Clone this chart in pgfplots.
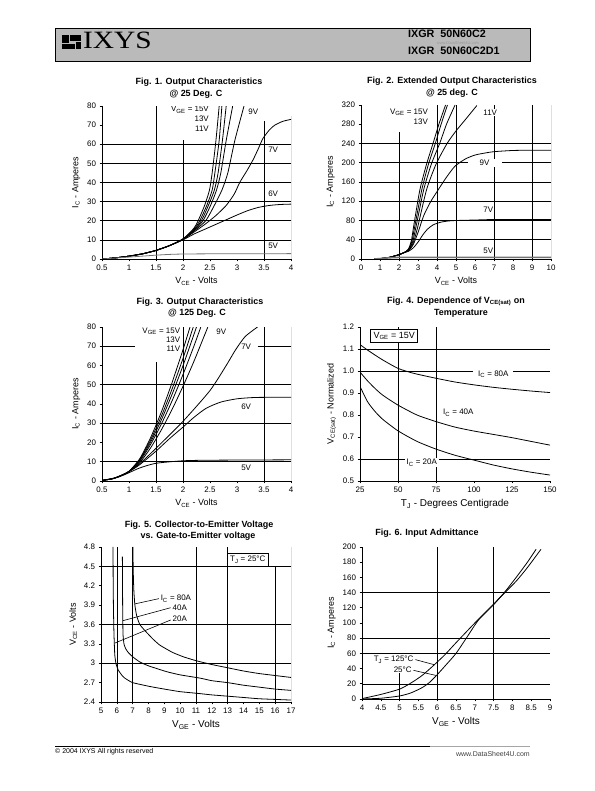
\documentclass[border=0pt]{standalone}
\usepackage{fontspec}
\setmainfont{Liberation Sans}
\newfontfamily\seriffont{Liberation Serif}
\usepackage{graphicx}
\usepackage{pgfplots}
\pgfplotsset{compat=1.18}

\pgfplotsset{
  ds/.style={
    scale only axis, anchor=south west,
    axis x line*=bottom, axis y line*=left,
    axis line style={black, line width=0.9pt},
    tick align=outside, major tick length=2.5pt,
    every tick/.style={black, line width=0.6pt},
    enlargelimits=false,
    ticklabel style={font=\fontsize{8}{9}\selectfont},
    /pgf/number format/assume math mode=true,
    label style={font=\fontsize{9}{10}\selectfont},
    cycle list={{black, solid}},
    every axis plot/.append style={line width=0.8pt, no markers, smooth, tension=0.4},
    clip=true,
  },
}
\tikzset{gl/.style={black, line width=0.55pt},
  lbl/.style={fill=white, inner sep=1pt, font=\fontsize{8}{10}\selectfont}}

\begin{document}
\begin{tikzpicture}
\path[use as bounding box] (0,0) rectangle (595bp,791bp);
\begin{scope}[x=1bp,y=-1bp,yshift=791bp]
 % header
 \draw[fill=black!27, line width=0.8pt] (55,28) rectangle (530,61);
 \fill[black] (62,35) rectangle (69,43);
 \fill[black] (70,35) rectangle (81,41);
 \fill[black] (62,44) rectangle (75,49);
 \fill[black] (76,42) rectangle (81,49);
 \node[anchor=base west, inner sep=0, font=\seriffont\fontsize{25}{25}\selectfont] at (83,49) {\scalebox{1.18}[1]{IXYS}};
 \node[anchor=base west, inner sep=0, font=\bfseries\fontsize{10.8}{12}\selectfont] at (408,37.7) {IXGR\ \ 50N60C2};
 \node[anchor=base west, inner sep=0, font=\bfseries\fontsize{10.8}{12}\selectfont] at (408,54.3) {IXGR\ \ 50N60C2D1};
 \node[anchor=base, inner sep=0, text=black!40, font=\fontsize{4}{5}\selectfont] at (458,45) {www.DataSheet4U.com};
 % titles
 \begin{scope}[every node/.style={font=\bfseries\fontsize{9}{10}\selectfont, inner sep=0}]
 \node at (199,82.7) {Fig. 1. Output Characteristics};
 \node at (196,94.3) {@ 25 Deg. C};
 \node at (452,81.7) {Fig. 2. Extended Output Characteristics};
 \node at (452,93.6) {@ 25 deg. C};
 \node at (200,302.7) {Fig. 3. Output Characteristics};
 \node at (197,313.3) {@ 125 Deg. C};
 \node at (456,301.7) {Fig. 4. Dependence of V\textsubscript{CE(sat)} on};
 \node at (461,313.3) {Temperature};
 \node at (199,525) {Fig. 5. Collector-to-Emitter Voltage};
 \node at (198,536.7) {vs. Gate-to-Emitter voltage};
 \node at (427,533.3) {Fig. 6. Input Admittance};
 \end{scope}
 % footer
 \draw[line width=0.6pt] (55,746) -- (430,746);
 \draw[line width=0.6pt, black!35] (430,746) -- (530,746);
 \node[anchor=base west, inner sep=0, font=\fontsize{7}{8}\selectfont] at (55,754) {© 2004 IXYS All rights reserved};
 \node[anchor=base east, inner sep=0, text=black!75, font=\fontsize{7}{8}\selectfont] at (530,757) {www.DataSheet4U.com};
\end{scope}

%================ Fig 1
\begin{axis}[ds, at={(102bp,532bp)}, width=189bp, height=153bp,
  xmin=0.5, xmax=4, ymin=0, ymax=80,
  xtick={0.5,1,1.5,2,2.5,3,3.5,4}, ytick={0,10,20,30,40,50,60,70,80},
  xlabel={V\textsubscript{CE} - Volts}, ylabel={I\textsubscript{C} - Amperes}]
\draw[gl] (axis cs:0.5,10) -- (axis cs:4,10);
\draw[gl] (axis cs:0.5,20) -- (axis cs:4,20);
\draw[gl] (axis cs:0.5,30) -- (axis cs:4,30);
\draw[gl] (axis cs:0.5,40) -- (axis cs:4,40);
\draw[gl] (axis cs:0.5,50) -- (axis cs:4,50);
\draw[gl] (axis cs:0.5,60) -- (axis cs:4,60);
\draw[gl] (axis cs:1.5,0) -- (axis cs:1.5,80);
\draw[gl] (axis cs:2,0) -- (axis cs:2,62);
\draw[gl] (axis cs:3.5,0) -- (axis cs:3.5,72);
\draw[gl] (axis cs:4,0) -- (axis cs:4,75);
\node[lbl, anchor=north east, align=right] at (axis cs:2.5,80.5) {V\textsubscript{GE} = 15V\\13V\\11V};
\node[lbl] at (axis cs:3.3,77) {9V};
\node[lbl] at (axis cs:3.67,57) {7V};
\node[lbl] at (axis cs:3.67,34) {6V};
\node[lbl] at (axis cs:3.67,7) {5V};
% 15V
\addplot coordinates {(0.5,0) (0.75,0.6) (1,1.5) (1.25,2.7) (1.5,4.5) (1.75,7) (2,10.5) (2.2,16) (2.28,20) (2.4,28) (2.49,36) (2.54,45) (2.61,62) (2.67,80)};
% 13V
\addplot coordinates {(0.5,0) (0.75,0.6) (1,1.5) (1.25,2.7) (1.5,4.5) (1.75,7) (2,10.5) (2.2,15.5) (2.31,20) (2.44,28) (2.54,36) (2.59,45) (2.67,62) (2.72,80)};
% 11V
\addplot coordinates {(0.5,0) (0.75,0.6) (1,1.5) (1.25,2.7) (1.5,4.5) (1.75,7) (2,10.4) (2.2,15) (2.34,20) (2.47,28) (2.58,36) (2.65,45) (2.73,62) (2.80,80)};
% 10V
\addplot coordinates {(0.5,0) (0.75,0.6) (1,1.5) (1.25,2.7) (1.5,4.5) (1.75,7) (2,10.3) (2.2,14.8) (2.37,20) (2.51,28) (2.62,36) (2.70,45) (2.80,62) (2.92,80)};
% 9V
\addplot coordinates {(0.5,0) (0.75,0.6) (1,1.5) (1.25,2.7) (1.5,4.5) (1.75,7) (2,10.2) (2.2,14.5) (2.42,20) (2.58,28) (2.72,36) (2.83,45) (2.96,62) (3.13,80)};
% 7V
\addplot coordinates {(0.5,0) (0.75,0.6) (1,1.5) (1.25,2.7) (1.5,4.5) (1.75,7) (2,10.2) (2.2,14) (2.4,18) (2.6,22.5) (2.8,28) (2.95,34) (3.05,40) (3.18,46) (3.3,52) (3.4,58) (3.48,63) (3.6,67.5) (3.7,70) (3.85,72) (4,73)};
% 6V
\addplot coordinates {(0.5,0) (0.75,0.6) (1,1.5) (1.25,2.7) (1.5,4.4) (1.75,7) (2,10) (2.2,13) (2.4,15.5) (2.6,18) (2.8,20.5) (3.0,23) (3.2,25.3) (3.4,27) (3.6,28) (3.8,28.5) (4,28.7)};
% 5V
\addplot[black!55] coordinates {(0.5,0) (0.75,0.5) (1,1) (1.25,1.5) (1.5,2) (1.75,2.4) (2,2.6) (2.5,2.7) (4,2.8)};
\end{axis}

%================ Fig 2
\begin{axis}[ds, at={(361bp,532bp)}, width=190bp, height=154bp,
  xmin=0, xmax=10, ymin=0, ymax=320,
  xtick={0,1,2,3,4,5,6,7,8,9,10}, ytick={0,40,80,120,160,200,240,280,320},
  xlabel={V\textsubscript{CE} - Volts}, ylabel={I\textsubscript{C} - Amperes}]
\draw[gl] (axis cs:0,40) -- (axis cs:10,40);
\draw[gl] (axis cs:0,80) -- (axis cs:10,80);
\draw[gl] (axis cs:0,120) -- (axis cs:10,120);
\draw[gl] (axis cs:0,160) -- (axis cs:10,160);
\draw[gl] (axis cs:0,200) -- (axis cs:10,200);
\draw[gl] (axis cs:0,240) -- (axis cs:10,240);
\draw[gl] (axis cs:2,0) -- (axis cs:2,264);
\draw[gl] (axis cs:4,0) -- (axis cs:4,320);
\draw[gl] (axis cs:5,0) -- (axis cs:5,320);
\draw[gl] (axis cs:7,0) -- (axis cs:7,320);
\draw[gl] (axis cs:9,0) -- (axis cs:9,320);
\draw[gl] (axis cs:10,0) -- (axis cs:10,320);
\node[lbl, anchor=north east, align=right] at (axis cs:3.58,315) {V\textsubscript{GE} = 15V\\13V};
\node[lbl] at (axis cs:6.8,304) {11V};
\node[lbl, minimum width=34bp] at (axis cs:6.5,200) {9V};
\node[lbl] at (axis cs:6.7,102) {7V};
\node[lbl] at (axis cs:6.7,17) {5V};
\addplot coordinates {(0.7,0) (1,0.8) (1.5,3.5) (2,9) (2.3,14) (2.5,21) (2.65,38) (2.8,75) (3.1,144) (3.45,197) (3.79,240) (4.1,280) (4.45,320)};
\addplot coordinates {(0.7,0) (1,0.8) (1.5,3.5) (2,9) (2.3,14) (2.5,20) (2.68,37) (2.85,72) (3.2,144) (3.55,197) (3.91,240) (4.2,278) (4.55,320)};
\addplot coordinates {(0.7,0) (1,0.8) (1.5,3.5) (2,9) (2.3,14) (2.5,19) (2.72,36) (2.9,68) (3.3,144) (3.7,197) (4.14,240) (4.5,280) (4.95,320)};
\addplot coordinates {(0.7,0) (1,0.8) (1.5,3.5) (2,9) (2.3,14) (2.5,18) (2.75,34) (2.97,64) (3.45,144) (3.95,197) (4.53,240) (5,266) (5.5,290) (6.1,319)};
\addplot coordinates {(0.7,0) (1,0.8) (1.5,3.5) (2,9) (2.3,14) (2.5,17) (2.75,30) (3.0,55) (3.3,90) (3.65,118) (4,140) (4.5,170) (4.95,193) (5.5,208) (6,216) (6.5,220) (7,223) (8,225.5) (9,226) (10,226)};
\addplot coordinates {(0.7,0) (1,0.8) (1.5,3.5) (2,9) (2.3,13.5) (2.5,16) (2.75,23) (3.0,35) (3.25,50) (3.5,62) (3.8,71) (4.2,76.5) (4.6,79) (5,80) (6,81) (7,82) (10,82)};
\addplot[black!55, line width=1.6pt] coordinates {(0.7,0) (1,0.8) (1.5,2.5) (2,3.3) (2.5,3.5) (10,3.5)};
\end{axis}

%================ Fig 3
\begin{axis}[ds, at={(102bp,310bp)}, width=189bp, height=154bp,
  xmin=0.5, xmax=4, ymin=0, ymax=80,
  xtick={0.5,1,1.5,2,2.5,3,3.5,4}, ytick={0,10,20,30,40,50,60,70,80},
  xlabel={V\textsubscript{CE} - Volts}, ylabel={I\textsubscript{C} - Amperes}]
\draw[gl] (axis cs:0.5,10) -- (axis cs:4,10);
\draw[gl] (axis cs:0.5,30) -- (axis cs:4,30);
\draw[gl] (axis cs:0.5,50) -- (axis cs:4,50);
\draw[gl] (axis cs:0.5,70) -- (axis cs:1.11,70);
\draw[gl] (axis cs:3.38,70) -- (axis cs:4,70);
\draw[gl] (axis cs:1.5,0) -- (axis cs:1.5,61.8);
\draw[gl] (axis cs:2,0) -- (axis cs:2,80);
\draw[gl] (axis cs:3.5,0) -- (axis cs:3.5,80);
\draw[gl] (axis cs:4,0) -- (axis cs:4,80);
\node[lbl, anchor=north east, align=right, font=\fontsize{8}{9.4}\selectfont] at (axis cs:1.97,80.3) {V\textsubscript{GE} = 15V\\13V\\11V};
\node[lbl] at (axis cs:2.71,77.4) {9V};
\node[lbl] at (axis cs:3.17,69.6) {7V};
\node[lbl] at (axis cs:3.17,38.5) {6V};
\node[lbl] at (axis cs:3.17,6.6) {5V};
\addplot coordinates {(0.5,0.3) (0.7,1.2) (0.85,2.8) (1,5) (1.2,11.6) (1.4,22.5) (1.6,35.9) (1.8,51.3) (2,68.2) (2.13,80)};
\addplot coordinates {(0.5,0.3) (0.7,1.2) (0.85,2.8) (1,5) (1.2,11.2) (1.4,21.3) (1.6,33.7) (1.8,48) (2,63.7) (2.19,80)};
\addplot coordinates {(0.5,0.3) (0.7,1.2) (0.85,2.8) (1,5) (1.2,10.8) (1.4,20.2) (1.6,31.8) (1.8,45.2) (2,59.9) (2.25,80)};
\addplot coordinates {(0.5,0.3) (0.7,1.2) (0.85,2.8) (1,5) (1.2,10.3) (1.4,19) (1.6,29.6) (1.8,41.8) (2,55.3) (2.2,69.9) (2.33,80)};
\addplot coordinates {(0.5,0.3) (0.7,1.2) (0.85,2.8) (1,5) (1.2,9.6) (1.4,17.2) (1.6,26.6) (1.8,37.3) (2,49.2) (2.2,62) (2.46,80)};
\addplot coordinates {(0.5,0.3) (0.7,1.2) (0.85,2.8) (1,4.9) (1.2,9) (1.5,17) (2,31) (2.5,47) (2.8,60) (2.97,68) (3.15,75) (3.38,80)};
\addplot coordinates {(0.5,0.3) (0.7,1.2) (0.85,2.8) (1,4.8) (1.2,8.5) (1.5,15.5) (1.75,22) (2,28) (2.2,33) (2.43,37.8) (2.7,41) (3,42.7) (3.35,43.4) (4,43.5)};
\addplot coordinates {(0.5,0.3) (0.8,2) (1,4.3) (1.2,6.8) (1.5,9.2) (2,10.5) (2.5,10.8) (4,11)};
\end{axis}

%================ Fig 4
\begin{axis}[ds, at={(360bp,310bp)}, width=190bp, height=154bp,
  xmin=25, xmax=150, ymin=0.5, ymax=1.2,
  xtick={25,50,75,100,125,150}, ytick={0.5,0.6,0.7,0.8,0.9,1.0,1.1,1.2},
  yticklabel style={/pgf/number format/.cd, fixed, fixed zerofill, precision=1},
  xlabel={T\textsubscript{J} - Degrees Centigrade}, ylabel={V\textsubscript{CE(sat)} - Normalized},
  xlabel style={font=\fontsize{10}{11}\selectfont}]
\draw[gl] (axis cs:25,1.1) -- (axis cs:150,1.1);
\draw[gl] (axis cs:25,1.0) -- (axis cs:150,1.0);
\draw[gl] (axis cs:25,0.6) -- (axis cs:150,0.6);
\draw[gl] (axis cs:50,0.5) -- (axis cs:50,1.2);
\draw[gl] (axis cs:75,0.5) -- (axis cs:75,1.2);
\node[fill=white, draw=black, line width=0.8pt, inner sep=3pt, font=\fontsize{9}{10}\selectfont] at (axis cs:47.5,1.158) {V\textsubscript{GE} = 15V};
\node[lbl, minimum width=40bp] at (axis cs:112.7,0.986) {I\textsubscript{C} = 80A};
\node[lbl] at (axis cs:89.7,0.811) {I\textsubscript{C} = 40A};
\node[lbl, minimum width=34bp] at (axis cs:65.6,0.583) {I\textsubscript{C} = 20A};
\addplot coordinates {(25,1.12) (30,1.095) (35,1.072) (40,1.05) (50,1.012) (60,0.99) (75,0.967) (87.5,0.95) (100,0.937) (112.5,0.926) (125,0.917) (137.5,0.909) (150,0.902)};
\addplot coordinates {(25,0.995) (30,0.955) (35,0.92) (40,0.89) (50,0.845) (62.5,0.80) (75,0.77) (87.5,0.745) (100,0.727) (112.5,0.712) (125,0.697) (137.5,0.68) (150,0.663)};
\addplot coordinates {(25,0.93) (30,0.86) (35,0.815) (40,0.78) (50,0.728) (62.5,0.68) (75,0.645) (87.5,0.617) (100,0.595) (112.5,0.573) (125,0.555) (137.5,0.54) (150,0.527)};
\end{axis}

%================ Fig 5
\begin{axis}[ds, at={(101bp,89bp)}, width=190bp, height=155bp,
  xmin=5, xmax=17, ymin=2.4, ymax=4.8,
  xtick={5,6,7,8,9,10,11,12,13,14,15,16,17}, ytick={2.4,2.7,3,3.3,3.6,3.9,4.2,4.5,4.8},
  xlabel={V\textsubscript{GE} - Volts}, ylabel={V\textsubscript{CE} - Volts},
  xlabel style={font=\fontsize{10}{11}\selectfont},
  every axis plot/.append style={tension=0.3}]
\draw[gl] (axis cs:5,4.5) -- (axis cs:17,4.5);
\draw[gl] (axis cs:5,3.6) -- (axis cs:17,3.6);
\draw[gl] (axis cs:5,3.0) -- (axis cs:17,3.0);
\draw[gl] (axis cs:6,2.4) -- (axis cs:6,4.8);
\draw[gl] (axis cs:7,2.4) -- (axis cs:7,4.8);
\draw[gl] (axis cs:11,2.4) -- (axis cs:11,4.8);
\draw[gl] (axis cs:13,2.4) -- (axis cs:13,4.8);
\draw[gl] (axis cs:16,2.4) -- (axis cs:16,4.49);
\draw[gl] (axis cs:17,2.4) -- (axis cs:17,4.8);
\node[fill=white, draw=black, line width=0.8pt, inner sep=3pt, font=\fontsize{8}{9}\selectfont] at (axis cs:14.27,4.6) {T\textsubscript{J} = 25°C};
\draw[black, line width=0.6pt] (axis cs:7.16,3.92) -- (axis cs:8.65,4.0);
\draw[black, line width=0.6pt] (axis cs:6.4,3.66) -- (axis cs:9.4,3.86);
\draw[black, line width=0.6pt] (axis cs:5.85,3.31) -- (axis cs:9.4,3.67);
\node[lbl, anchor=west] at (axis cs:8.7,4.0) {I\textsubscript{C} = 80A};
\node[lbl, anchor=west] at (axis cs:9.45,3.86) {40A};
\node[lbl, anchor=west] at (axis cs:9.45,3.69) {20A};
\addplot coordinates {(7.02,4.8) (7.03,4.5) (7.05,4.3) (7.08,4.1) (7.14,3.9) (7.25,3.74) (7.45,3.6) (7.87,3.48) (8.3,3.37) (8.72,3.28) (9.5,3.17) (10.2,3.1) (11,3.04) (12,2.98) (13,2.93) (14,2.88) (15,2.84) (16,2.81) (17,2.78)};
\addplot coordinates {(6.35,4.65) (6.36,4.2) (6.37,3.8) (6.39,3.45) (6.45,3.3) (6.55,3.23) (6.71,3.17) (7,3.1) (7.45,3.02) (8,2.96) (9.14,2.87) (10,2.82) (11.25,2.77) (12,2.73) (13,2.7) (14,2.66) (15,2.63) (16,2.6) (17,2.58)};
\addplot coordinates {(5.76,4.8) (5.77,4.2) (5.79,3.8) (5.82,3.45) (5.87,3.13) (5.95,2.99) (6.08,2.9) (6.3,2.82) (6.5,2.77) (7,2.7) (8.09,2.64) (9,2.6) (10,2.56) (11.25,2.53) (12,2.51) (13,2.49) (14,2.47) (15,2.45) (16,2.44) (17,2.43)};
\end{axis}

%================ Fig 6
\begin{axis}[ds, at={(362bp,92bp)}, width=188bp, height=152bp,
  xmin=4, xmax=9, ymin=0, ymax=200,
  xtick={4,4.5,5,5.5,6,6.5,7,7.5,8,8.5,9}, ytick={0,20,40,60,80,100,120,140,160,180,200},
  xlabel={V\textsubscript{GE} - Volts}, ylabel={I\textsubscript{C} - Amperes},
  xlabel style={font=\fontsize{10}{11}\selectfont}]
\draw[gl] (axis cs:4,20) -- (axis cs:9,20);
\draw[gl] (axis cs:4,60) -- (axis cs:9,60);
\draw[gl] (axis cs:4,80) -- (axis cs:9,80);
\draw[gl] (axis cs:4,140) -- (axis cs:9,140);
\draw[gl] (axis cs:5,0) -- (axis cs:5,40.8);
\draw[gl] (axis cs:6,0) -- (axis cs:6,200);
\draw[gl] (axis cs:7.5,0) -- (axis cs:7.5,200);
\draw[gl] (axis cs:9,0) -- (axis cs:9,200);
\node[lbl, anchor=east] at (axis cs:5.4,51.8) {T\textsubscript{J} = 125°C};
\node[lbl, anchor=east] at (axis cs:5.35,38.6) {25°C};
\draw[black, line width=0.6pt] (axis cs:5.42,51.8) -- (axis cs:5.93,45);
\draw[black, line width=0.6pt] (axis cs:5.37,37.7) -- (axis cs:5.97,31);
\addplot coordinates {(4,0) (4.5,1) (5,4) (5.3,8) (5.6,15) (5.8,22) (6,32) (6.2,43) (6.5,60) (6.8,82) (7.1,104) (7.5,124) (7.8,141) (8.1,160) (8.4,180) (8.63,197)};
\addplot coordinates {(4,0.5) (4.5,6) (5,13) (5.3,21) (5.6,31) (5.9,44) (6.2,58) (6.5,74) (7,100) (7.5,125) (7.8,140) (8.1,155) (8.4,173) (8.76,197)};
\end{axis}
\end{tikzpicture}
\end{document}
